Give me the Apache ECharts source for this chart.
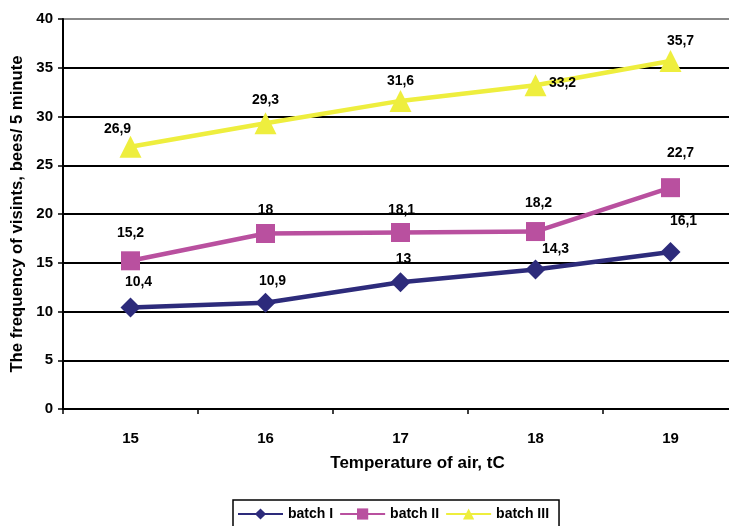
<!DOCTYPE html>
<html><head><meta charset="utf-8">
<script src="https://cdn.jsdelivr.net/npm/echarts@6/dist/echarts.min.js"></script>
<style>html,body{margin:0;padding:0;background:#fff;overflow:hidden;width:729px;height:526px}#c{width:745px;height:526px}</style>
</head><body><div id="c"></div>
<script>
const categories = ['15','16','17','18','19'];
const batchI = [10.4, 10.9, 13, 14.3, 16.1];
const batchII = [15.2, 18, 18.1, 18.2, 22.7];
const batchIII = [26.9, 29.3, 31.6, 33.2, 35.7];
const seriesNames = ['batch I','batch II','batch III'];
// label offsets (styling, px)
const offI = [[8,-25],[7,-22],[3,-23],[20,-20],[13,-31]];
const offII = [[0,-28],[0,-23],[1,-22],[3,-28],[10,-35]];
const offIII = [[-13,-18],[0,-23],[0,-20],[27,-2],[10,-20]];

const font = 'Liberation Sans, Arial, sans-serif';
function fmt(v){ return String(v).replace('.', ','); }
function mk(name, vals, offs, color, symbol, size){
  return {
    name, type:'line', data: vals.map((v,i)=>({value:v, label:{offset:offs[i]}})),
    symbol, symbolSize:size, lineStyle:{color, width:4.5}, itemStyle:{color},
    label:{show:true, position:'inside', color:'#000', fontWeight:'bold', fontSize:14, fontFamily:font,
      formatter:p=>fmt(p.value)},
    z: 3
  };
}
const chart = echarts.init(document.getElementById('c'));
chart.setOption({
  animation:false,
  grid:{left:63, right:7, top:19, height:390, containLabel:false},
  xAxis:{type:'category', data:categories, boundaryGap:true,
    name:'Temperature of air, tC', nameLocation:'middle', nameGap:46,
    nameTextStyle:{fontWeight:'bold', fontSize:17, color:'#000', fontFamily:font, padding:[0,0,0,34]},
    axisLine:{lineStyle:{color:'#000', width:2}},
    axisTick:{show:true, length:5, lineStyle:{color:'#000', width:1.5}},
    axisLabel:{fontWeight:'bold', fontSize:15, color:'#000', margin:22, fontFamily:font}},
  yAxis:{type:'value', min:0, max:40, interval:5,
    name:'The frequency of visints, bees/ 5 minute', nameLocation:'middle', nameGap:35,
    nameTextStyle:{fontWeight:'bold', fontSize:16.7, color:'#000', fontFamily:font},
    axisLine:{show:true, lineStyle:{color:'#000', width:2}},
    axisTick:{show:true, length:5, lineStyle:{color:'#000', width:1.5}},
    axisLabel:{fontWeight:'bold', fontSize:15, color:'#000', margin:10, fontFamily:font},
    splitLine:{lineStyle:{color:['#000','#000','#000','#000','#000','#000','#000','#000','#888'], width:1.8}}},
  legend:{bottom:-9, left:233, itemWidth:45, itemHeight:14, itemGap:6,
    padding:[7,10,14,4], borderColor:'#000', borderWidth:1.5,
    textStyle:{fontWeight:'bold', fontSize:14, color:'#000', fontFamily:font},
    data:seriesNames},
  series:[
    mk(seriesNames[0], batchI, offI, '#2d2b7b', 'diamond', 20),
    mk(seriesNames[1], batchII, offII, '#b9509f', 'rect', 19),
    mk(seriesNames[2], batchIII, offIII, '#eeee3e', 'triangle', 22)
  ]
});
</script></body></html>
